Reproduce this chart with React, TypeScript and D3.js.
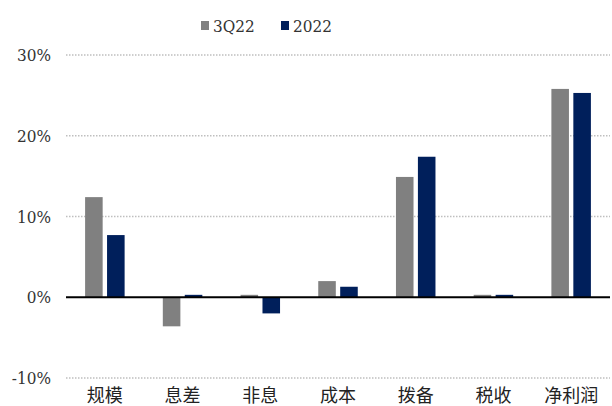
import { useEffect, useRef } from 'react';
import * as d3 from 'd3';

const categories = ['规模', '息差', '非息', '成本', '拨备', '税收', '净利润'];
const seriesNames = ['3Q22', '2022'];
const values3Q22 = [12.4, -3.6, 0.3, 2.0, 14.9, 0.3, 25.8];
const values2022 = [7.7, 0.3, -2.0, 1.3, 17.4, 0.3, 25.3];
const yTicks = [-10, 0, 10, 20, 30];

const COLORS = ['#808080', '#001F5B'];
const FONT = "'DejaVu Serif Condensed', 'DejaVu Serif', 'Noto Sans CJK SC', serif";

export default function App() {
  const svgRef = useRef<SVGSVGElement>(null);

  useEffect(() => {
    if (!svgRef.current) return;
    const svg = d3.select(svgRef.current);
    svg.selectAll('*').remove();

    const W = 612, H = 406;
    const M = { left: 66, right: 2, top: 55, bottom: 28 };

    const x = d3.scaleBand<string>().domain(categories).range([M.left, W - M.right]).padding(0);
    const inner = d3.scaleBand<string>().domain(seriesNames).range([0, x.bandwidth()]).paddingInner(0.2).paddingOuter(0.87);
    const y = d3.scaleLinear().domain([-10, 30]).range([H - M.bottom, M.top]);

    const root = svg.append('g')
      .style('font-family', FONT)
      .style('font-stretch', 'condensed');

    // Gridlines
    root.append('g')
      .selectAll('line')
      .data(yTicks.filter((t) => t !== 0))
      .join('line')
      .attr('x1', M.left).attr('x2', W - M.right)
      .attr('y1', (d) => y(d)).attr('y2', (d) => y(d))
      .attr('stroke', '#BFBFBF')
      .attr('stroke-width', 1.3)
      .attr('stroke-dasharray', '1.5,1.5');

    // Y tick labels
    root.append('g')
      .selectAll('text')
      .data(yTicks)
      .join('text')
      .attr('x', 51)
      .attr('y', (d) => y(d) + 6)
      .attr('text-anchor', 'end')
      .attr('font-size', 17)
      .attr('fill', '#333')
      .text((d) => `${d}%`);

    // Bars
    const series = [values3Q22, values2022];
    series.forEach((vals, si) => {
      root.append('g')
        .selectAll('rect')
        .data(vals)
        .join('rect')
        .attr('x', (_, i) => (x(categories[i]) ?? 0) + (inner(seriesNames[si]) ?? 0))
        .attr('y', (d) => y(Math.max(0, d)))
        .attr('width', inner.bandwidth())
        .attr('height', (d) => Math.abs(y(d) - y(0)))
        .attr('fill', COLORS[si]);
    });

    // Zero line
    root.append('line')
      .attr('x1', M.left).attr('x2', W - M.right)
      .attr('y1', y(0)).attr('y2', y(0))
      .attr('stroke', '#000')
      .attr('stroke-width', 2);

    // Category labels
    root.append('g')
      .selectAll('text')
      .data(categories)
      .join('text')
      .attr('x', (d) => (x(d) ?? 0) + x.bandwidth() / 2)
      .attr('y', 402)
      .attr('text-anchor', 'middle')
      .attr('font-size', 18)
      .attr('fill', '#222')
      .text((d) => d);

    // Legend
    const legendX = [201, 281];
    seriesNames.forEach((name, i) => {
      root.append('rect')
        .attr('x', legendX[i]).attr('y', 21)
        .attr('width', 8).attr('height', 9)
        .attr('fill', COLORS[i]);
      root.append('text')
        .attr('x', legendX[i] + 12).attr('y', 32)
        .attr('font-size', 17)
        .attr('fill', '#333')
        .text(name);
    });
  }, []);

  return (
    <svg
      ref={svgRef}
      width={612}
      height={406}
      viewBox="0 0 612 406"
      style={{ position: 'absolute', left: 0, top: 0, background: '#fff' }}
    />
  );
}
